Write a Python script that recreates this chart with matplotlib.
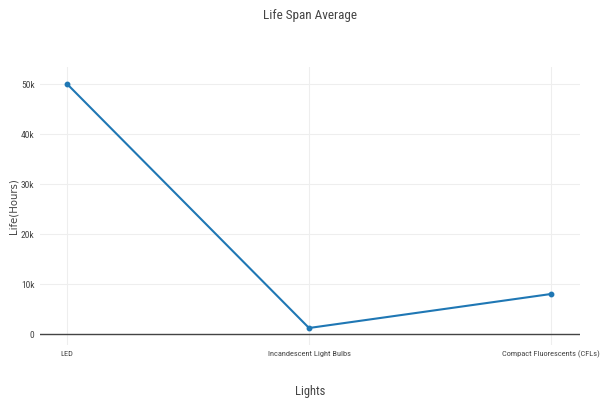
import matplotlib
matplotlib.use("Agg")
import matplotlib.pyplot as plt
from matplotlib.ticker import FuncFormatter

lights = ["LED", "Incandescent Light Bulbs", "Compact Fluorescents (CFLs)"]
life_hours = [50000, 1200, 8000]
y_ticks = [0, 10000, 20000, 30000, 40000, 50000]

narrow = ["Roboto Condensed", "PT Sans Narrow", "Archivo Narrow", "DejaVu Sans"]
text_col = "#444444"

fig = plt.figure(figsize=(6, 4.01), dpi=100)
ax = fig.add_axes([40 / 600, 56 / 401, 540 / 600, 278 / 401])

x = list(range(len(lights)))
ax.plot(x, life_hours, color="#1f77b4", lw=1.5, marker="o", ms=3.2, zorder=3)

ax.set_xlim(-0.112, 2.12)
ax.set_ylim(-2200, 53400)
ax.set_xticks(x)
ax.set_xticklabels(lights, family=narrow, fontsize=6.0, color=text_col)
ax.set_yticks(y_ticks)
ax.yaxis.set_major_formatter(FuncFormatter(lambda v, p: "0" if v == 0 else f"{int(v / 1000)}k"))
for lbl in ax.get_yticklabels():
    lbl.set_family(narrow)
    lbl.set_fontsize(6.8)
    lbl.set_color(text_col)

ax.tick_params(axis="x", length=0, pad=4)
ax.tick_params(axis="y", length=0, pad=4)
ax.grid(True, color="#eeeeee", lw=0.8)
ax.set_axisbelow(True)
for s in ax.spines.values():
    s.set_visible(False)
ax.axhline(0, color="#444444", lw=1.0, zorder=2)

ax.set_xlabel("Lights", family=narrow, fontsize=9, color=text_col, labelpad=19)
ax.set_ylabel("Life(Hours)", family="DejaVu Sans", fontsize=7.3, color=text_col, labelpad=2)
fig.text(310 / 600, 1 - 15 / 401, "Life Span Average", ha="center", va="center",
         family=narrow, fontsize=9.5, color=text_col)

fig.savefig("out.png", dpi=100)
